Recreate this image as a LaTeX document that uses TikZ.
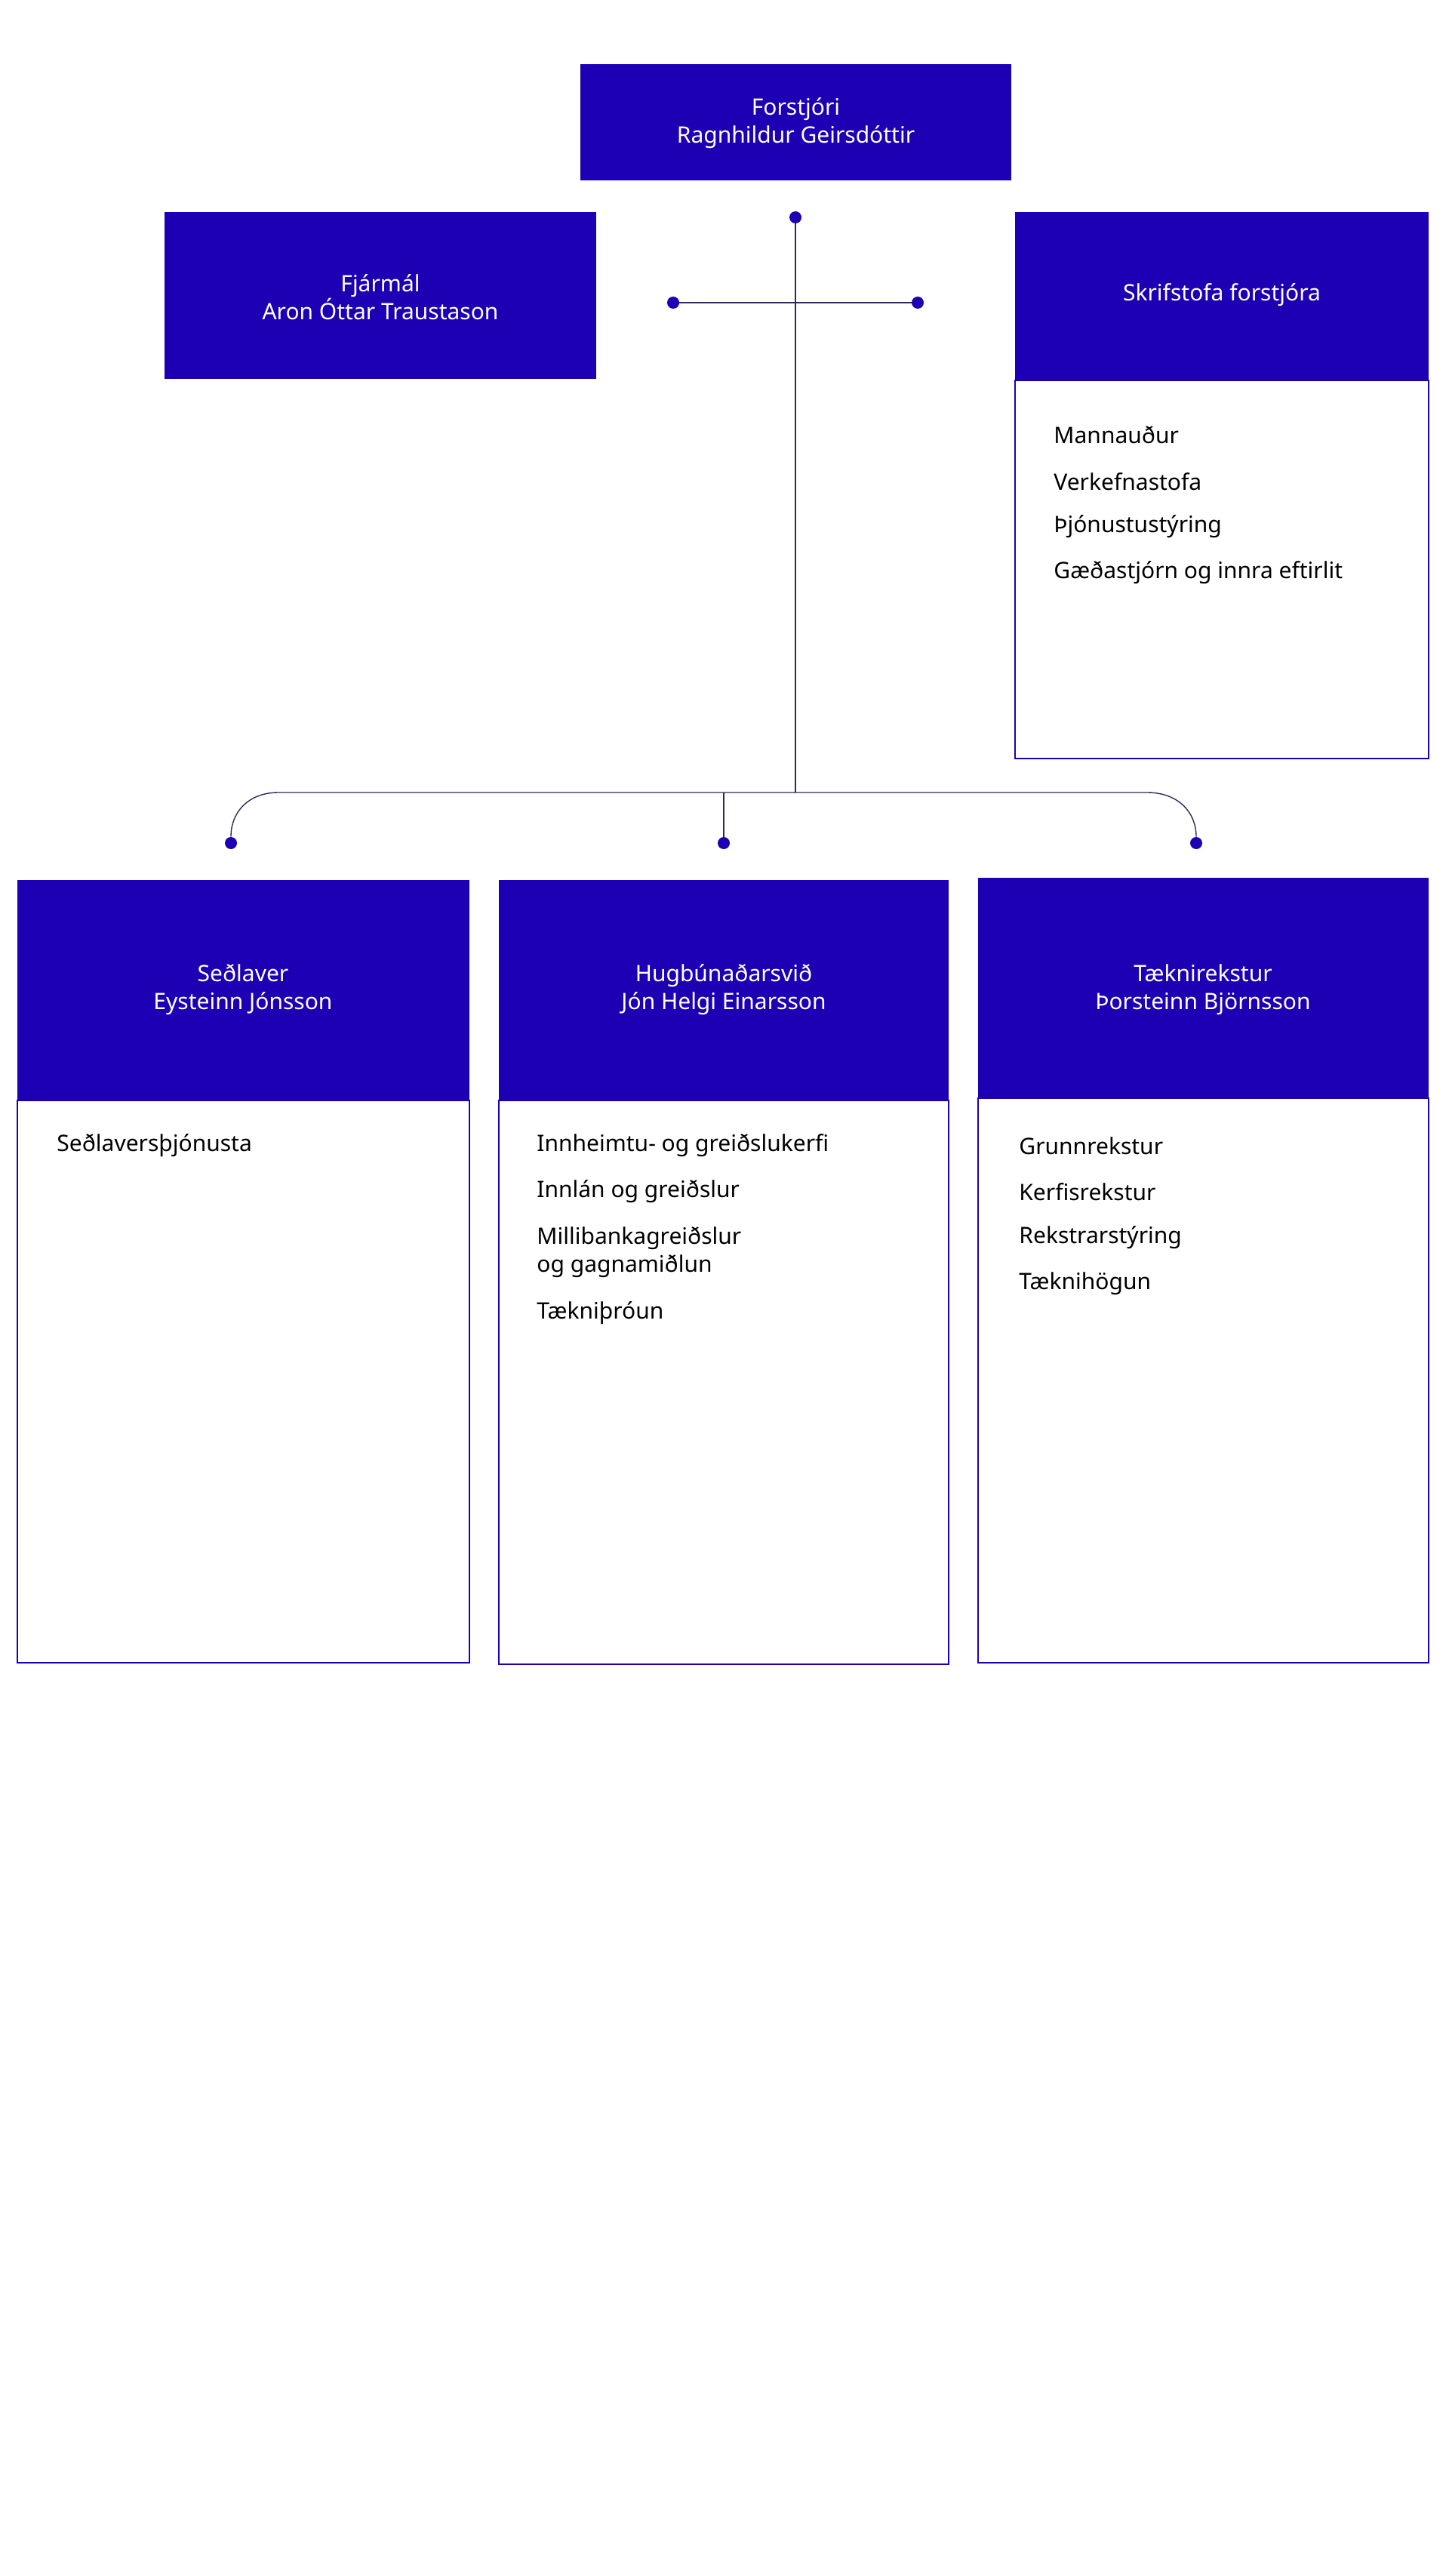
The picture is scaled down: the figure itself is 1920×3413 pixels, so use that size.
\documentclass[tikz,border=0pt]{standalone}
\usepackage{fontspec}
\setmainfont{Noto Sans}
\definecolor{brand}{HTML}{1E00B4}
\definecolor{lin}{HTML}{2B2A5C}
\begin{document}
\begin{tikzpicture}[x=0.5pt,y=-0.5pt,
  hdr/.style={fill=brand,draw=brand},
  frame/.style={draw=brand,line width=1.2pt},
  ttl/.style={text=white,font=\fontsize{15}{18.5}\selectfont,align=center},
  itm/.style={anchor=west,font=\fontsize{15}{18.5}\selectfont,align=left,inner sep=0},
  con/.style={draw=lin,line width=0.7pt},
  dot/.style={circle,fill=brand,inner sep=0,minimum size=8pt}]
\useasboundingbox (0,0) rectangle (1920,3413);
% top boxes
\fill[brand] (769,85) rectangle (1340,239);
\node[ttl] (ceo) at (1054.5,163) {\textbf{Forstjóri}\\Ragnhildur Geirsdóttir};
\fill[brand] (218,281) rectangle (790,502);
\node[ttl] (fin) at (504,394) {\textbf{Fjármál}\\Aron Óttar Traustason};
\draw[frame] (1345,504) rectangle (1893,1005);
\fill[brand] (1345,281) rectangle (1893,504);
\node[ttl] (skr) at (1619,391) {\textbf{Skrifstofa forstjóra}};
\node[itm] at (1396,576) {Mannauður};
\node[itm] at (1396,638) {Verkefnastofa};
\node[itm] at (1396,698) {Þjónustustýring};
\node[itm] at (1396,759) {Gæðastjórn og innra eftirlit};
% connectors
\node[dot] (d0) at (1054,288) {};
\node[dot] (dl) at (892,401) {};
\node[dot] (dr) at (1216,401) {};
\node[dot] (b1) at (306,1117) {};
\node[dot] (b2) at (959,1117) {};
\node[dot] (b3) at (1585,1117) {};
\coordinate (j) at (1054,1050);
\coordinate (m) at (959,1050);
\draw[con] (d0) -- (j);
\draw[con] (dl) -- (dr);
\draw[con] (b1) .. controls (306,1075) and (330,1050) .. (369,1050) -- (1520,1050) .. controls (1560,1050) and (1585,1075) .. (b3);
\draw[con] (m) -- (b2);
% bottom boxes
\draw[frame] (23,1458) rectangle (622,2203);
\fill[brand] (23,1166) rectangle (622,1458);
\node[ttl] (sed) at (322,1311) {\textbf{Seðlaver}\\Eysteinn Jónsson};
\node[itm] at (75,1518) {Seðlaversþjónusta};
\draw[frame] (661,1458) rectangle (1257,2205);
\fill[brand] (661,1166) rectangle (1257,1458);
\node[ttl] (hug) at (959,1311) {\textbf{Hugbúnaðarsvið}\\Jón Helgi Einarsson};
\node[itm] at (711,1518) {Innheimtu- og greiðslukerfi};
\node[itm] at (711,1579) {Innlán og greiðslur};
\node[itm] at (711,1659.5) {Millibankagreiðslur\\og gagnamiðlun};
\node[itm] at (711,1740) {Tækniþróun};
\draw[frame] (1296,1455) rectangle (1893,2203);
\fill[brand] (1296,1163) rectangle (1893,1455);
\node[ttl] (tae) at (1594,1311) {\textbf{Tæknirekstur}\\Þorsteinn Björnsson};
\node[itm] at (1350,1518) {Grunnrekstur};
\node[itm] at (1350,1579) {Kerfisrekstur};
\node[itm] at (1350,1640) {Rekstrarstýring};
\node[itm] at (1350,1701) {Tæknihögun};
\end{tikzpicture}
\end{document}
